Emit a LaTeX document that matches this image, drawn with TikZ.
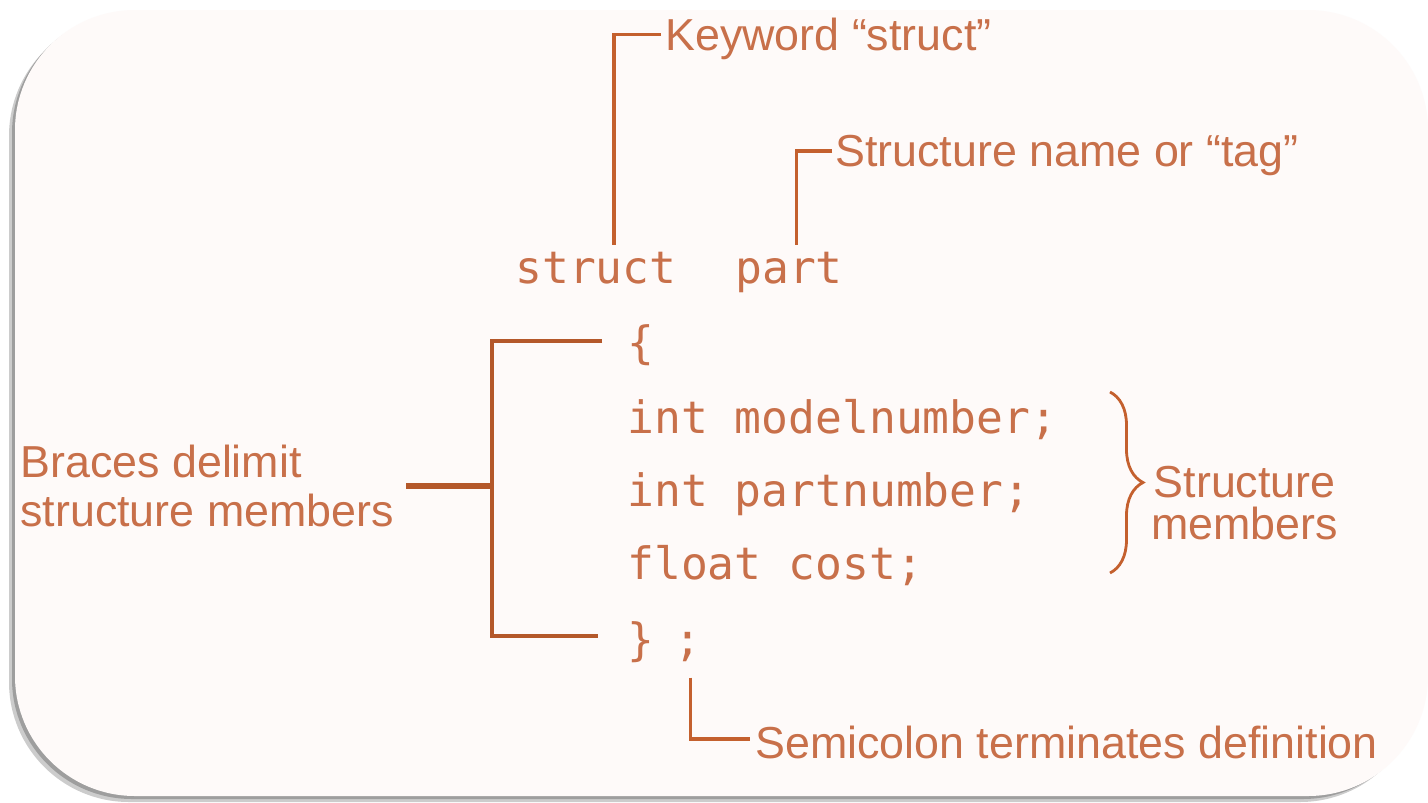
\documentclass[tikz,border=0pt]{standalone}
\usepackage{fontspec}
\setmainfont{Liberation Sans}
\setmonofont{DejaVu Sans Mono}
\usetikzlibrary{calc, decorations.pathreplacing}
\definecolor{structText}{HTML}{C8704A}
\definecolor{structLine}{HTML}{C4602E}
\definecolor{panelFill}{HTML}{FEFAF9}

\begin{document}
\begin{tikzpicture}[x=0.02cm, y=-0.02cm,
    note/.style={font=\fontsize{25.5}{28.4}\selectfont, text=structText, inner sep=0pt},
    code/.style={font=\ttfamily\fontsize{25.4}{30}\selectfont, text=structText, inner sep=0pt, anchor=base west},
    leader/.style={draw=structLine, line width=1.8pt},
    bracket/.style={draw=structLine!92!black, line width=2.4pt}]
    \useasboundingbox (0,0) rectangle (1428,802);
    % --- panel with shadow ---
    \fill[white] (0,0) rectangle (1428,802);
    \fill[black!20, rounded corners=2.4cm] (9,16) rectangle (1420,802);
    \fill[black!38, rounded corners=2.4cm] (12,13) rectangle (1423,799);
    \fill[panelFill, rounded corners=2.4cm] (15,10) rectangle (1428,796);
    % --- code lines ---
    \node[code] (struct) at (515,283) {struct};
    \node[code] (part) at (735,283) {part};
    \node[code] (lbrace) at (627,358) {\{};
    \node[code] (mem1) at (627,433) {int modelnumber;};
    \node[code] (mem2) at (627,506) {int partnumber;};
    \node[code] (mem3) at (627,579) {float cost;};
    \node[code] (rbrace) at (627,655) {\}};
    \node[code] (semi) at (674,655) {;};
    % --- callouts ---
    \node[note, anchor=base west] (kw) at (665,50) {Keyword “struct”};
    \node[note, anchor=base west] (tag) at (835,166) {Structure name or “tag”};
    \node[note, anchor=base west] (semidef) at (755,758) {Semicolon terminates definition};
    \node[note, anchor=west, align=left] (braces) at (20,486) {Braces delimit\\structure members};
    \node[note, anchor=west, align=center, font=\fontsize{25.5}{23.8}\selectfont] (smem) at (1151,503) {Structure\\members};
    \draw[leader] ($(kw.west)+(-4,-4)$) -| ($(struct.north)+(18,-6)$);
    \draw[leader] ($(tag.west)+(-3,-4)$) -| ($(part.north)+(7,-6)$);
    \draw[leader] ($(semi.south)+(3,16)$) |- ($(semidef.west)+(-5,-3)$);
    % --- bracket round the body ---
    \path (braces.east) ++(98,0) coordinate (brk);
    \draw[bracket] ($(lbrace.west)+(-25,-4)$) -| (brk) |- ($(rbrace.west)+(-29,-6)$);
    \draw[bracket, line width=3.4pt] ($(braces.east)+(12,0)$) -- (brk);
    % --- curly brace for members ---
    \coordinate (bt) at (1110,392);
    \coordinate (bb) at (1110,573);
    \draw[leader, line width=1.6pt, decorate, decoration={brace, amplitude=0.66cm}] (bt) -- (bb);
  \end{tikzpicture}
\end{document}
